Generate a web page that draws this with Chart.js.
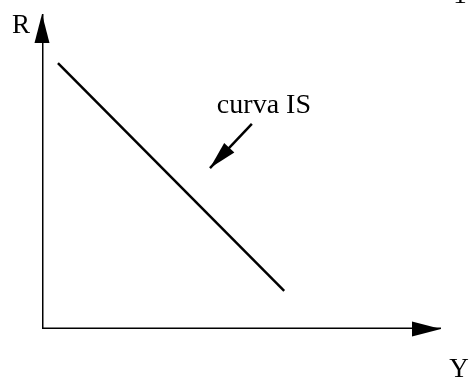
<!DOCTYPE html>
<html>
<head>
<meta charset="utf-8">
<script src="https://cdn.jsdelivr.net/npm/chart.js@4/dist/chart.umd.min.js"></script>
<style>
  html, body { margin: 0; padding: 0; background: #ffffff; }
  #wrap { width: 470px; height: 378px; position: relative; }
</style>
</head>
<body>
<div id="wrap"><canvas id="isChart"></canvas></div>
<script>
// ---------------------------
// Data (abstract units, origin at the axes corner)
// ---------------------------
const axisMax = [10, 10];                  // [Y max, R max]
const axisLabels = ["Y", "R"];
const isCurveY = [0.40, 6.07];
const isCurveR = [8.44, 1.21];
const pointerY = [5.26, 4.21];             // annotation arrow, tail -> tip
const pointerR = [6.51, 5.11];
const curveName = "curva IS";

const pts = (xs, ys) => xs.map((x, i) => ({ x: x, y: ys[i] }));

const SERIF = '"Liberation Serif", "DejaVu Serif", serif';

// arrow head at the last point of a dataset, pointing along the last segment
function drawHead(ctx, meta, len, width) {
  const n = meta.data.length;
  const tip = meta.data[n - 1], prev = meta.data[n - 2];
  const a = Math.atan2(tip.y - prev.y, tip.x - prev.x);
  ctx.save();
  ctx.translate(tip.x, tip.y);
  ctx.rotate(a);
  ctx.beginPath();
  ctx.moveTo(0, 0);
  ctx.lineTo(-len, width / 2);
  ctx.lineTo(-len, -width / 2);
  ctx.closePath();
  ctx.fillStyle = "#000000";
  ctx.fill();
  ctx.restore();
}

const decorations = {
  id: "decorations",
  afterDatasetsDraw(chart) {
    const ctx = chart.ctx;
    const xs = chart.scales.x, ys = chart.scales.y;
    drawHead(ctx, chart.getDatasetMeta(0), 29, 15);   // Y axis
    drawHead(ctx, chart.getDatasetMeta(1), 29, 15);   // R axis
    drawHead(ctx, chart.getDatasetMeta(3), 28, 14);   // pointer

    ctx.save();
    ctx.fillStyle = "#000000";
    ctx.textBaseline = "alphabetic";
    ctx.font = "27px " + SERIF;
    ctx.textAlign = "center";
    ctx.fillText(axisLabels[1], xs.getPixelForValue(0) - 21, ys.getPixelForValue(axisMax[1]) + 19);
    ctx.fillText(axisLabels[0], xs.getPixelForValue(axisMax[0]) + 18, ys.getPixelForValue(0) + 48);
    ctx.fillText("1", 460, 3);
    ctx.font = "28px " + SERIF;
    ctx.textAlign = "left";
    ctx.fillText(curveName, xs.getPixelForValue(pointerY[0]) - 35, ys.getPixelForValue(pointerR[0]) - 11);
    ctx.restore();
  }
};

const line = (label, data, w) => ({
  label: label,
  data: data,
  showLine: true,
  borderColor: "#000000",
  borderWidth: w,
  pointRadius: 0,
  fill: false,
});

new Chart(document.getElementById("isChart"), {
  type: "scatter",
  data: {
    datasets: [
      line(axisLabels[0], pts([0, axisMax[0]], [0, 0]), 3),
      line(axisLabels[1], pts([0, 0], [0, axisMax[1]]), 3),
      line(curveName, pts(isCurveY, isCurveR), 2.5),
      line("pointer", pts(pointerY, pointerR), 2.5),
    ],
  },
  options: {
    responsive: true,
    maintainAspectRatio: false,
    animation: false,
    layout: { padding: { left: 42, top: 14, right: 29, bottom: 49 } },
    plugins: { legend: { display: false }, tooltip: { enabled: false } },
    scales: {
      x: { type: "linear", min: 0, max: axisMax[0], display: false },
      y: { type: "linear", min: 0, max: axisMax[1], display: false },
    },
  },
  plugins: [decorations],
});
</script>
</body>
</html>
